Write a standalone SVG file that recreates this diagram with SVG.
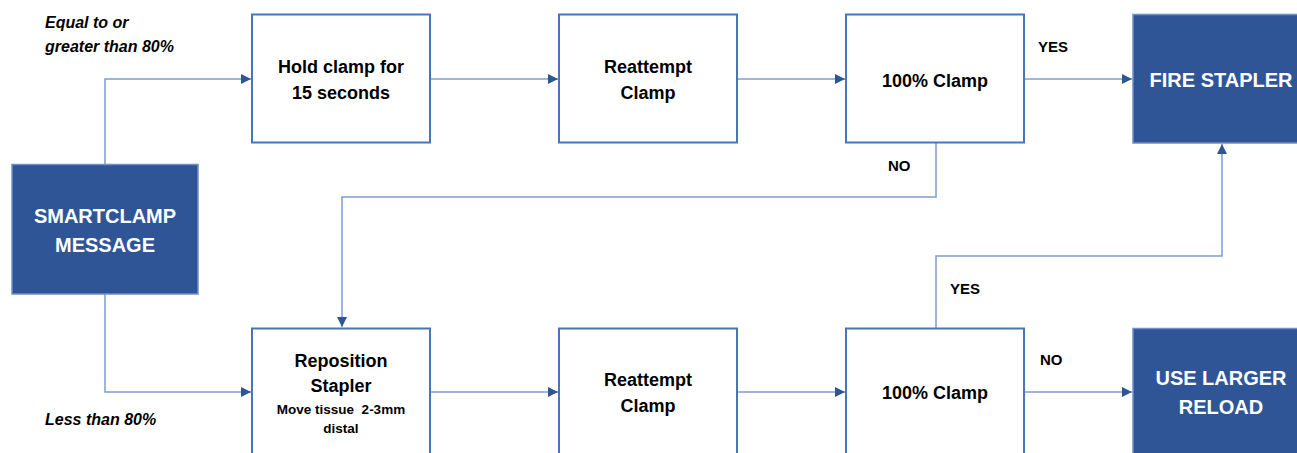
<svg xmlns="http://www.w3.org/2000/svg" width="1297" height="453" viewBox="0 0 1297 453">
<style>
.box{fill:#fff;stroke:#4a74b8;stroke-width:2}
.dark{fill:#2f5597;stroke:#6f8fc8;stroke-width:1.5}
.t{font-family:"Liberation Sans",Arial,sans-serif;font-weight:bold;font-size:18px;fill:#000;text-anchor:middle}
.w{font-family:"Liberation Sans",Arial,sans-serif;font-weight:bold;font-size:20px;fill:#fff;text-anchor:middle}
.s{font-family:"Liberation Sans",Arial,sans-serif;font-weight:bold;font-size:13.5px;fill:#000;text-anchor:middle}
.lab{font-family:"Liberation Sans",Arial,sans-serif;font-weight:bold;font-size:15px;fill:#000}
.it{font-family:"Liberation Sans",Arial,sans-serif;font-weight:bold;font-style:italic;font-size:16px;fill:#000}
.c{fill:none;stroke:#7f9dd0;stroke-width:1.5}
</style>
<defs>
<marker id="arr" viewBox="0 0 10 10" refX="10" refY="5" markerWidth="10" markerHeight="10" markerUnits="userSpaceOnUse" orient="auto">
<path d="M0,0 L10,5 L0,10 z" fill="#2f5597"/>
</marker>
</defs>
<rect width="1297" height="453" fill="#fff"/>
<g id="connectors">
<polyline class="c" points="105,164 105,79 251,79" marker-end="url(#arr)"/>
<polyline class="c" points="105,294 105,392 251,392" marker-end="url(#arr)"/>
<line class="c" x1="430" y1="79" x2="558" y2="79" marker-end="url(#arr)"/>
<line class="c" x1="737" y1="79" x2="845" y2="79" marker-end="url(#arr)"/>
<line class="c" x1="1024" y1="79" x2="1132" y2="79" marker-end="url(#arr)"/>
<polyline class="c" points="936,143 936,197 342,197 342,327" marker-end="url(#arr)"/>
<line class="c" x1="430" y1="392" x2="558" y2="392" marker-end="url(#arr)"/>
<line class="c" x1="737" y1="392" x2="845" y2="392" marker-end="url(#arr)"/>
<line class="c" x1="1024" y1="392" x2="1132" y2="392" marker-end="url(#arr)"/>
<polyline class="c" points="936,328 936,256 1222,256 1222,144" marker-end="url(#arr)"/>
</g>
<g id="smartclamp">
<rect class="dark" x="12" y="164.5" width="186" height="129.5"/>
<text class="w" x="105" y="223">SMARTCLAMP</text>
<text class="w" x="105" y="252">MESSAGE</text>
</g>
<g id="hold">
<rect class="box" x="252" y="14.5" width="178" height="128"/>
<text class="t" x="341" y="73">Hold clamp for</text>
<text class="t" x="341" y="99">15 seconds</text>
</g>
<g id="reattempt1">
<rect class="box" x="559" y="14.5" width="178" height="128"/>
<text class="t" x="648" y="73">Reattempt</text>
<text class="t" x="648" y="99">Clamp</text>
</g>
<g id="clamp1">
<rect class="box" x="846" y="14.5" width="178" height="128"/>
<text class="t" x="935" y="87">100% Clamp</text>
</g>
<g id="fire">
<rect class="dark" x="1133" y="14.5" width="170" height="128.5"/>
<text class="w" x="1221" y="87">FIRE STAPLER</text>
</g>
<g id="reposition">
<rect class="box" x="252" y="328.5" width="178" height="135"/>
<text class="t" x="341" y="367">Reposition</text>
<text class="t" x="341" y="392">Stapler</text>
<text class="s" x="341" y="414">Move tissue&#160; 2-3mm</text>
<text class="s" x="341" y="433">distal</text>
</g>
<g id="reattempt2">
<rect class="box" x="559" y="328.5" width="178" height="135"/>
<text class="t" x="648" y="386">Reattempt</text>
<text class="t" x="648" y="412">Clamp</text>
</g>
<g id="clamp2">
<rect class="box" x="846" y="328.5" width="178" height="135"/>
<text class="t" x="935" y="399">100% Clamp</text>
</g>
<g id="larger">
<rect class="dark" x="1133" y="328.5" width="170" height="135"/>
<text class="w" x="1221" y="385">USE LARGER</text>
<text class="w" x="1221" y="414">RELOAD</text>
</g>
<g id="labels">
<text class="it" x="45" y="28">Equal to or</text>
<text class="it" x="45" y="52">greater than 80%</text>
<text class="it" x="45" y="425">Less than 80%</text>
<text class="lab" x="1038" y="52">YES</text>
<text class="lab" x="888" y="171">NO</text>
<text class="lab" x="950" y="294">YES</text>
<text class="lab" x="1040" y="365">NO</text>
</g>
</svg>
